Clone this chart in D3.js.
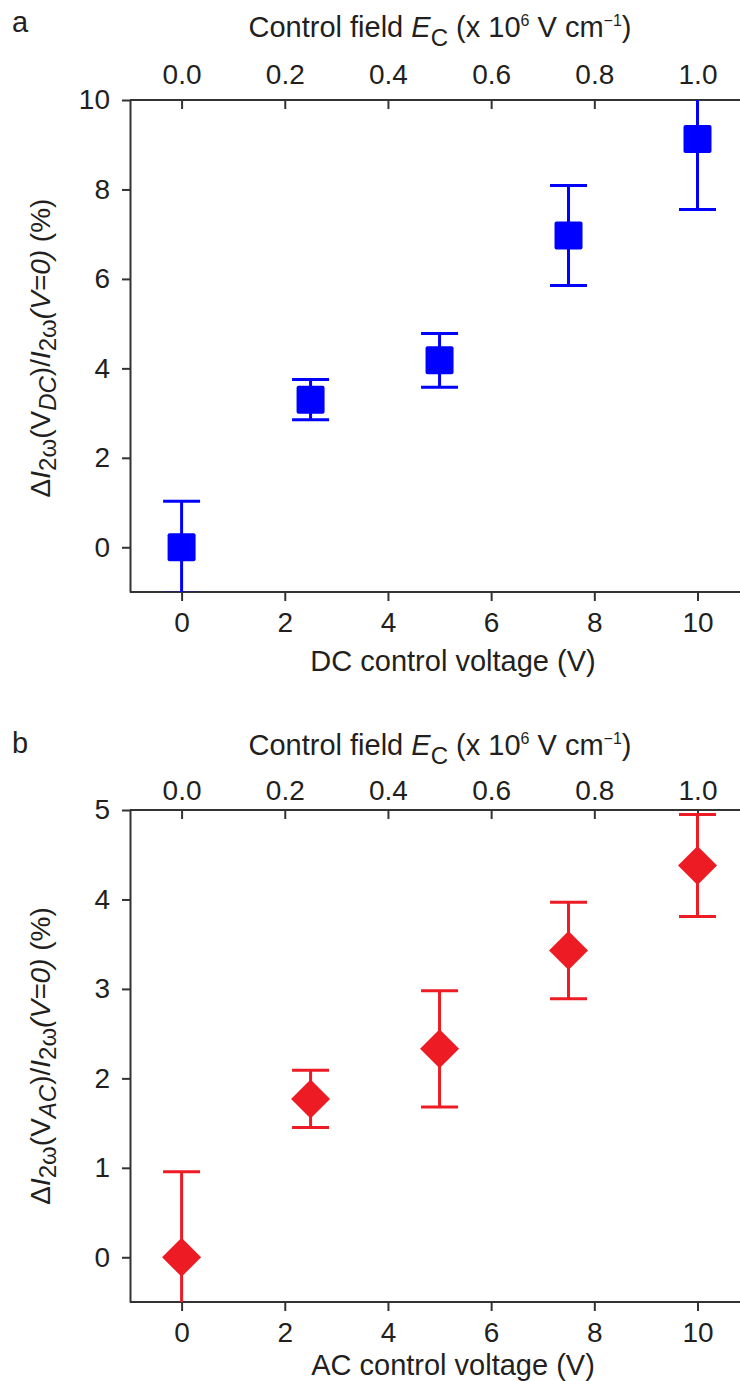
<!DOCTYPE html>
<html>
<head>
<meta charset="utf-8">
<script src="https://cdn.jsdelivr.net/npm/d3@7/dist/d3.min.js"></script>
<style>
  html, body { margin: 0; padding: 0; background: #fff; }
  svg { display: block; }
  text { font-family: "Liberation Sans", Arial, Helvetica, sans-serif; fill: #231f20; }
</style>
</head>
<body>
<svg id="chart" width="740" height="1381"></svg>
<script>
// ---- Data ----
const voltage = [0, 2.5, 5, 7.5, 10];
const dcMean = [0, 3.30, 4.18, 6.97, 9.13];
const dcErr  = [1.03, 0.45, 0.60, 1.12, 1.58];
const acMean = [0, 1.77, 2.33, 3.43, 4.38];
const acErr  = [0.955, 0.32, 0.65, 0.54, 0.57];
const xTicks = [0, 2, 4, 6, 8, 10];
const fieldTicks = [0.0, 0.2, 0.4, 0.6, 0.8, 1.0];
const dcYTicks = [0, 2, 4, 6, 8, 10];
const acYTicks = [0, 1, 2, 3, 4, 5];

const svg = d3.select("#chart");
const axisColor = "#333333";
const W = 740;
const left = 130;

function panel(opts) {
  const g = svg.append("g");
  const x = d3.scaleLinear().domain([-1, 10]).range([130, 697.5]);
  const xE = d3.scaleLinear().domain([-0.1, 1.0]).range([130, 697.5]);
  const y = d3.scaleLinear().domain(opts.yDomain).range([opts.bottom, opts.top]);

  const clipId = "clip" + opts.id;
  svg.append("clipPath").attr("id", clipId).append("rect")
    .attr("x", left).attr("y", opts.top).attr("width", W - left).attr("height", opts.bottom - opts.top);

  const xb = g.append("g").attr("transform", `translate(0,${opts.bottom})`)
    .call(d3.axisBottom(x).tickValues(xTicks).tickFormat(d3.format("d")).tickSizeInner(9).tickSizeOuter(0).tickPadding(11));
  const xt = g.append("g").attr("transform", `translate(0,${opts.top})`)
    .call(d3.axisTop(xE).tickValues(fieldTicks).tickFormat(d3.format(".1f")).tickSizeInner(-9).tickSizeOuter(0).tickPadding(opts.topPad));
  const yl = g.append("g").attr("transform", `translate(${left},0)`)
    .call(d3.axisLeft(y).tickValues(opts.yTicks).tickFormat(d3.format("d")).tickSizeInner(8).tickSizeOuter(0).tickPadding(12));

  [xb, xt, yl].forEach(a => {
    a.select(".domain").attr("stroke", axisColor).attr("stroke-width", 2);
    a.selectAll(".tick line").attr("stroke", axisColor).attr("stroke-width", 2);
    a.selectAll(".tick text").attr("font-size", 28).attr("fill", "#231f20")
      .attr("font-family", '"Liberation Sans", Arial, sans-serif');
  });
  xb.select(".domain").attr("d", `M130,0H${W}`);
  xt.select(".domain").attr("d", `M130,0H${W}`);

  const data = voltage.map((v, i) => ({ v, m: opts.mean[i], e: opts.err[i] }));
  const dg = g.append("g").attr("clip-path", `url(#${clipId})`);
  const capW = 18.5;
  dg.selectAll("line.err").data(data).join("line").attr("class", "err")
    .attr("x1", d => x(d.v)).attr("x2", d => x(d.v))
    .attr("y1", d => y(d.m - d.e)).attr("y2", d => y(d.m + d.e))
    .attr("stroke", opts.color).attr("stroke-width", 3);
  dg.selectAll("line.capT").data(data).join("line").attr("class", "capT")
    .attr("x1", d => x(d.v) - capW).attr("x2", d => x(d.v) + capW)
    .attr("y1", d => y(d.m + d.e)).attr("y2", d => y(d.m + d.e))
    .attr("stroke", opts.color).attr("stroke-width", 3);
  dg.selectAll("line.capB").data(data).join("line").attr("class", "capB")
    .attr("x1", d => x(d.v) - capW).attr("x2", d => x(d.v) + capW)
    .attr("y1", d => y(d.m - d.e)).attr("y2", d => y(d.m - d.e))
    .attr("stroke", opts.color).attr("stroke-width", 3);

  if (opts.marker === "square") {
    const s = 28;
    dg.selectAll("rect.pt").data(data).join("rect").attr("class", "pt")
      .attr("x", d => x(d.v) - s / 2).attr("y", d => y(d.m) - s / 2)
      .attr("width", s).attr("height", s).attr("rx", 2)
      .attr("fill", opts.color);
  } else {
    const r = 19.5;
    dg.selectAll("path.pt").data(data).join("path").attr("class", "pt")
      .attr("d", d => {
        const cx = x(d.v), cy = y(d.m);
        return `M${cx},${cy - r}L${cx + r},${cy}L${cx},${cy + r}L${cx - r},${cy}Z`;
      })
      .attr("fill", opts.color);
  }

  svg.append("text").attr("x", 12).attr("y", opts.letterY).attr("font-size", 29).text(opts.letter);

  const tt = svg.append("text").attr("x", 440).attr("y", opts.titleY)
    .attr("text-anchor", "middle").attr("font-size", 29);
  tt.append("tspan").text("Control field ");
  tt.append("tspan").attr("font-style", "italic").text("E");
  tt.append("tspan").attr("font-size", 24).attr("dy", 9).text("C");
  tt.append("tspan").attr("dy", -9).text(" (x 10");
  tt.append("tspan").attr("font-size", 16).attr("dy", -11).text("6");
  tt.append("tspan").attr("dy", 11).text(" V cm");
  tt.append("tspan").attr("font-size", 16).attr("dy", -11).text("\u22121");
  tt.append("tspan").attr("dy", 11).text(")");

  svg.append("text").attr("x", 453).attr("y", opts.xTitleY)
    .attr("text-anchor", "middle").attr("font-size", 29).text(opts.xTitle);

  const yt = svg.append("text")
    .attr("transform", `translate(50,${opts.yTitleC}) rotate(-90)`)
    .attr("text-anchor", "middle").attr("font-size", 28);
  yt.append("tspan").text("\u0394");
  yt.append("tspan").attr("font-style", "italic").text("I");
  yt.append("tspan").attr("font-size", 24).attr("dy", 6).text("2\u03c9");
  yt.append("tspan").attr("dy", -6).text("(V");
  yt.append("tspan").attr("font-size", 24).attr("font-style", "italic").attr("dy", 6).text(opts.sub);
  yt.append("tspan").attr("dy", -6).text(")/");
  yt.append("tspan").attr("font-style", "italic").text("I");
  yt.append("tspan").attr("font-size", 24).attr("dy", 6).text("2\u03c9");
  yt.append("tspan").attr("dy", -6).attr("font-style", "italic").text("(V=0)");
  yt.append("tspan").text(" (%)");
}

panel({
  id: "a", top: 100, bottom: 592, yDomain: [-1, 10], yTicks: dcYTicks,
  mean: dcMean, err: dcErr, color: "#0000ff", marker: "square",
  letter: "a", letterY: 32, titleY: 37, topPad: 16, xTitle: "DC control voltage (V)", xTitleY: 671,
  yTitleC: 348, sub: "DC"
});
panel({
  id: "b", top: 810, bottom: 1302, yDomain: [-0.5, 5], yTicks: acYTicks,
  mean: acMean, err: acErr, color: "#ed1c24", marker: "diamond",
  letter: "b", letterY: 753, titleY: 755, topPad: 10, xTitle: "AC control voltage (V)", xTitleY: 1375,
  yTitleC: 1056, sub: "AC"
});
</script>
</body>
</html>
